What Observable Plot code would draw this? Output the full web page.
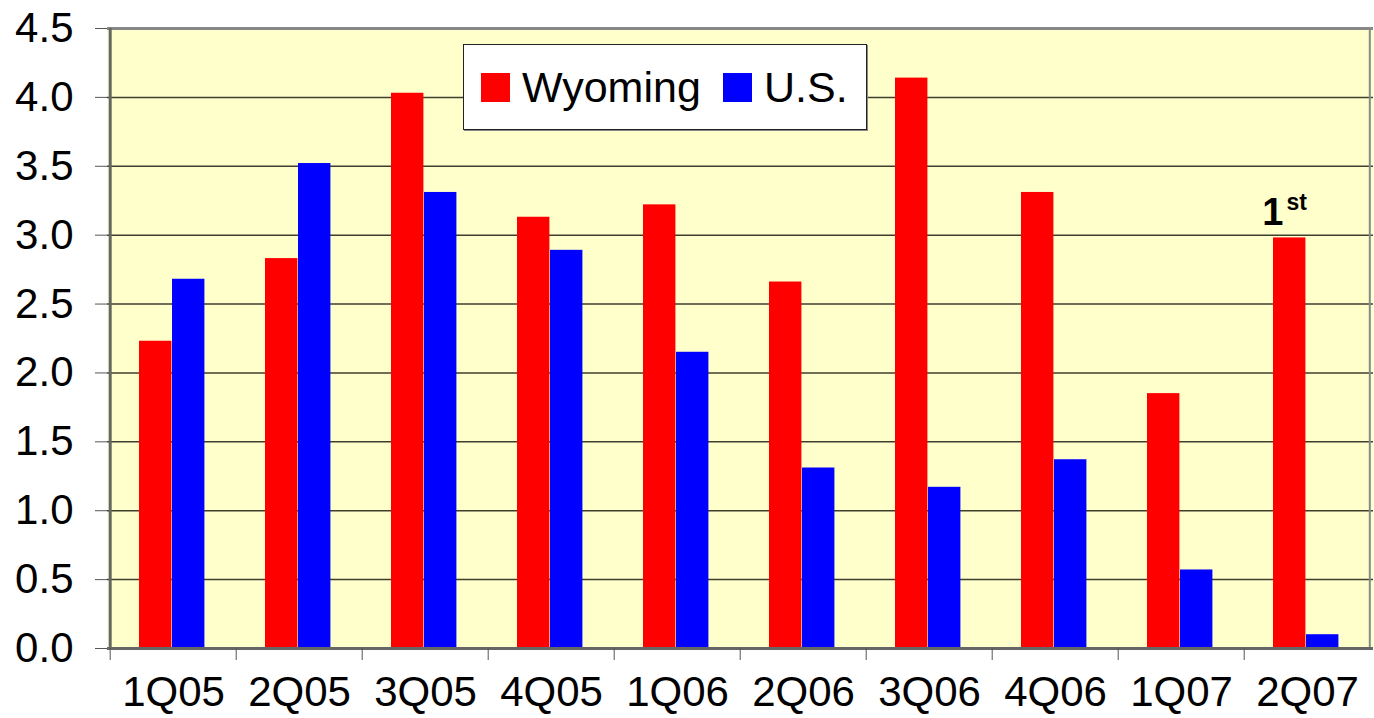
<!DOCTYPE html>
<html>
<head>
<meta charset="utf-8">
<script src="https://cdn.jsdelivr.net/npm/d3@7"></script>
<script src="https://cdn.jsdelivr.net/npm/@observablehq/plot@0.6"></script>
<style>
  html, body { margin: 0; padding: 0; background: #fff; }
  #wrap { position: relative; width: 1374px; height: 718px; font-family: "Liberation Sans", Arial, sans-serif; }
  #legend { position: absolute; left: 463px; top: 44px; width: 404px; height: 86px; background: #fff;
            border: 1px solid #222; box-shadow: 1px 1px 0 #888; box-sizing: border-box; }
  .item { position: absolute; top: 0; height: 84px; display: flex; align-items: center; font-size: 43px; color: #000; }
  .sw { width: 29px; height: 29px; display: inline-block; margin-right: 12px; }
</style>
</head>
<body>
<div id="wrap">
  <div id="chart"></div>
  <div id="legend">
    <div class="item" style="left:17px"><span class="sw" style="background:#ff0000"></span>Wyoming</div>
    <div class="item" style="left:259px"><span class="sw" style="background:#0000ff"></span>U.S.</div>
  </div>
</div>
<script>
const quarters = ["1Q05","2Q05","3Q05","4Q05","1Q06","2Q06","3Q06","4Q06","1Q07","2Q07"];
const wyoming = [2.23, 2.83, 4.03, 3.13, 3.22, 2.66, 4.14, 3.31, 1.85, 2.98];
const us      = [2.68, 3.52, 3.31, 2.89, 2.15, 1.31, 1.17, 1.37, 0.57, 0.10];
const yTicks  = [0, 0.5, 1, 1.5, 2, 2.5, 3, 3.5, 4, 4.5];
const rankLabel = {quarter: "2Q07", value: 2.98, main: "1", sup: "st"};

const W = 1374, H = 718;
const mL = 107, mR = 1, mT = 28, mB = 70;
const bw = (W - mL - mR) / quarters.length;

const rowsW = quarters.map((q, i) => ({quarter: q, value: wyoming[i]}));
const rowsU = quarters.map((q, i) => ({quarter: q, value: us[i]}));

const chart = Plot.plot({
  width: W, height: H,
  marginLeft: mL, marginRight: mR, marginTop: mT, marginBottom: mB,
  style: {fontFamily: "'Liberation Sans', Arial, sans-serif", background: "transparent", color: "#000"},
  x: {domain: quarters, padding: 0, label: null},
  y: {domain: [0, 4.5], label: null},
  marks: [
    Plot.frame({fill: "#FFFFCC", stroke: null}),
    Plot.ruleY(yTicks.filter(d => d > 0 && d < 4.5), {stroke: "#3f3f30", strokeWidth: 1.5}),
    Plot.barY(rowsW, {x: "quarter", y: "value", fill: "#ff0000", insetLeft: 29, insetRight: bw - 62}),
    Plot.barY(rowsU, {x: "quarter", y: "value", fill: "#0000ff", insetLeft: 62, insetRight: bw - 95}),
    // borders
    Plot.ruleY([4.5], {stroke: "#888", strokeWidth: 3}),
    Plot.ruleX([quarters[quarters.length - 1]], {dx: bw / 2 - 1, stroke: "#888", strokeWidth: 2}),
    Plot.ruleY([0], {stroke: "#666", strokeWidth: 3}),
    Plot.ruleX([quarters[0]], {dx: -bw / 2, stroke: "#666", strokeWidth: 3}),
    Plot.axisY({ticks: yTicks, tickFormat: d3.format(".1f"), tickSize: 12, tickPadding: 22,
                fontSize: 42, stroke: "#555", label: null}),
    Plot.axisX({tickSize: 0, tickPadding: 28, fontSize: 42, label: null}),
    Plot.axisX({tickSize: 12, text: null, dx: -bw / 2, stroke: "#555", label: null}),
    Plot.text([rankLabel], {x: "quarter", y: "value", text: "main", textAnchor: "end", lineAnchor: "bottom",
                            dx: -24, dy: -13, fontSize: 38, fontWeight: "bold", fill: "#000"}),
    Plot.text([rankLabel], {x: "quarter", y: "value", text: "sup", textAnchor: "start", lineAnchor: "bottom",
                            dx: -21, dy: -28, fontSize: 23, fontWeight: "bold", fill: "#000"})
  ]
});
document.getElementById("chart").appendChild(chart);
</script>
</body>
</html>
